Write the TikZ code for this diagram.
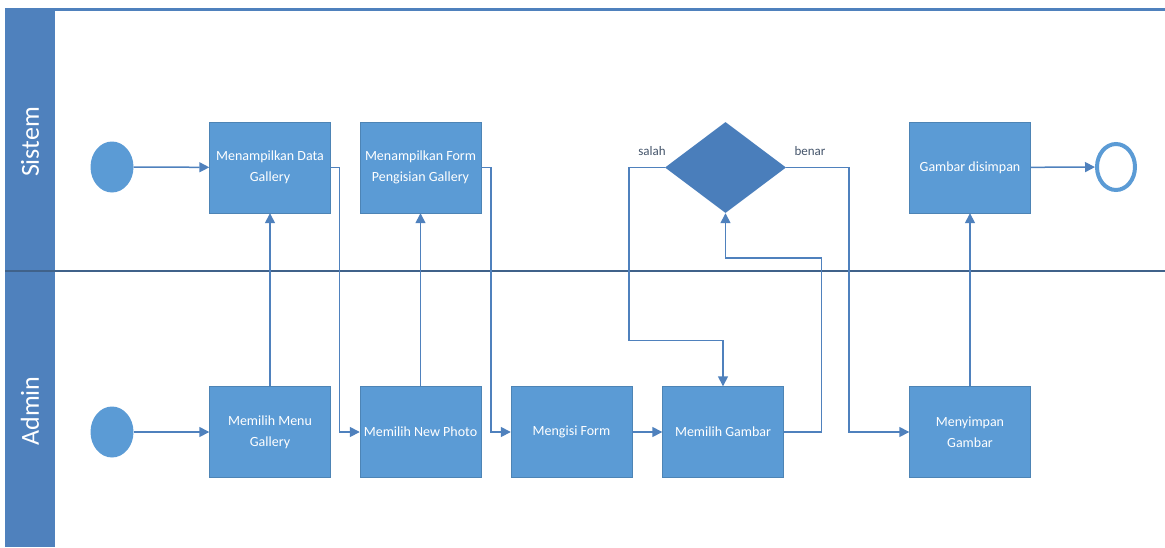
\documentclass[tikz,border=0pt]{standalone}
\usepackage{fontspec}
\setmainfont{Carlito}
\usetikzlibrary{arrows.meta,shapes.geometric}
\definecolor{lanec}{RGB}{79,129,189}
\definecolor{boxc}{RGB}{91,155,213}
\definecolor{decc}{RGB}{74,126,187}
\definecolor{labc}{RGB}{68,84,106}
\definecolor{divc}{RGB}{64,98,138}

\begin{document}
\begin{tikzpicture}[x=1pt,y=-1pt,>={Triangle[length=10pt,width=10pt]},
  act/.style={rectangle,fill=boxc,draw=boxc!85!black,line width=0.4pt,minimum width=121pt,minimum height=91pt,
    text=white,align=center,font=\fontsize{14}{21}\selectfont,inner sep=2pt},
  startev/.style={ellipse,fill=boxc,minimum width=43pt,minimum height=51pt,inner sep=0pt},
  endev/.style={ellipse,fill=white,draw=boxc,line width=4pt,minimum width=38pt,minimum height=46pt,inner sep=0pt},
  dec/.style={diamond,fill=decc,minimum width=121pt,minimum height=91pt,inner sep=0pt},
  flow/.style={->,draw=lanec,line width=1.5pt},
  lanelab/.style={text=white,rotate=90,font=\fontsize{26}{30}\selectfont},
  guard/.style={text=labc,font=\fontsize{13}{15}\selectfont}]
\useasboundingbox (0,0) rectangle (1165,547);
% lanes
\fill[lanec] (5,8) rectangle (55,547);
\draw[lanec,line width=3pt] (5,9.5) -- (1165,9.5);
\draw[divc,line width=1.2pt] (5,271) -- (1165,271);
\node[lanelab] (lsis) at (30,142) {Sistem};
\node[lanelab] (ladm) at (30,411) {Admin};
% Sistem lane
\node[startev] (s1) at (112,167) {};
\node[act] (t1) at (270,167.5) {Menampilkan Data\\Gallery};
\node[act] (t2) at (420.5,167.5) {Menampilkan Form\\Pengisian Gallery};
\node[dec] (d1) at (725.5,167.5) {};
\node[act] (t3) at (970,167.5) {Gambar disimpan};
\node[endev] (e1) at (1116,167) {};
% Admin lane
\node[startev] (s2) at (112,432) {};
\node[act] (a1) at (270,432) {Memilih Menu\\Gallery};
\node[act] (a2) at (420.5,432) {Memilih New Photo};
\node[act] (a3) at (571.5,432) {Mengisi Form};
\node[act] (a4) at (723,432) {Memilih Gambar};
\node[act] (a5) at (970,432) {Menyimpan\\Gambar};
% guards
\node[guard] (gs) at (652,151) {salah};
\node[guard] (gb) at (810,151) {benar};
% flows
\draw[flow] (s1) -- (t1);
\draw[flow] (s2) -- (a1);
\draw[flow] (a1) -- (t1);
\draw[flow] (t1.east) -- ++(9,0) |- (a2.west);
\draw[flow] (a2) -- (t2);
\draw[flow] (t2.east) -- ++(10,0) |- (a3.west);
\draw[flow] (a3) -- (a4);
\draw[flow] (a4.east) -- ++(38,0) -- ++(0,-174) -| (d1.south);
\draw[flow] (d1.west) -- ++(-36,0) -- ++(0,173) -| (a4.north);
\draw[flow] (d1.east) -- ++(63,0) |- (a5.west);
\draw[flow] (a5) -- (t3);
\draw[flow] (t3) -- (e1);
\end{tikzpicture}
\end{document}
